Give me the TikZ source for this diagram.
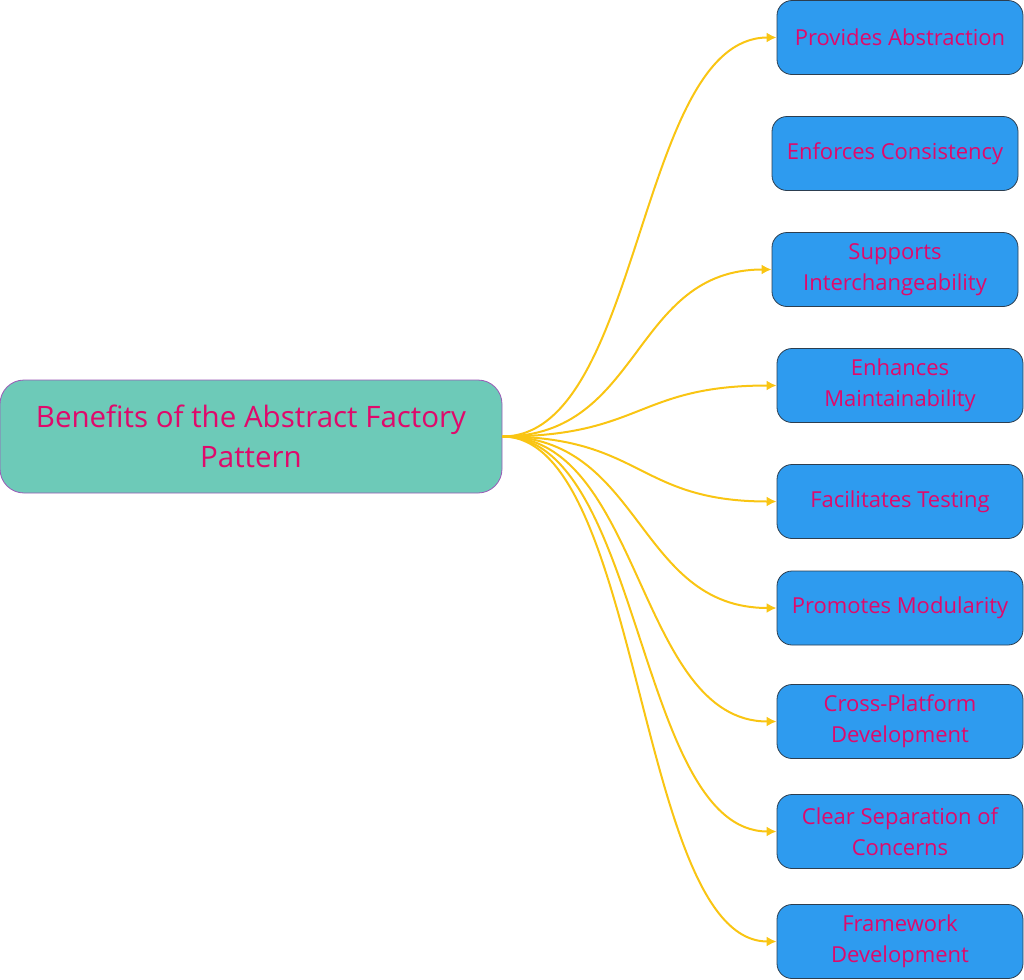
\documentclass[tikz,border=0pt]{standalone}
\usepackage{fontspec}
\setmainfont{Open Sans}
\usepackage{tikz}
\usetikzlibrary{arrows.meta}
\definecolor{rootteal}{HTML}{6DCAB8}
\definecolor{rootline}{HTML}{9B59B6}
\definecolor{leafblue}{HTML}{2E9BEF}
\definecolor{leafline}{HTML}{2C3E50}
\definecolor{labelpink}{HTML}{E0096B}
\definecolor{branchyellow}{HTML}{F9C513}
\tikzset{>={Latex[length=5pt,width=5pt]}}

\begin{document}
\begin{tikzpicture}[x=0.5pt, y=-0.5pt,
    rootbox/.style={draw=rootline, fill=rootteal, rounded corners=12pt,
      minimum width=251pt, minimum height=56.5pt, align=center,
      text=labelpink, font=\fontsize{14.75pt}{20pt}\selectfont},
    leafbox/.style={draw=leafline, fill=leafblue, rounded corners=7.5pt,
      minimum width=123pt, minimum height=37pt, align=center,
      text=labelpink, font=\fontsize{11pt}{15.5pt}\selectfont},
    branch/.style={->, draw=branchyellow, line width=1pt}]
  \useasboundingbox (0,0) rectangle (1024,980);

  % centre topic
  \node[rootbox] (root) at (251,436.5) {Benefits of the Abstract Factory\\Pattern};

  % benefits
  \node[leafbox] (abstraction) at (900,37.5) {Provides Abstraction};
  \node[leafbox] (consistency) at (895,153.5) {Enforces Consistency};
  \node[leafbox] (interchange) at (895,269.5) {Supports\\Interchangeability};
  \node[leafbox] (maintain) at (900,385.5) {Enhances\\Maintainability};
  \node[leafbox] (testing) at (900,501.5) {Facilitates Testing};
  \node[leafbox] (modularity) at (900,608) {Promotes Modularity};
  \node[leafbox] (crossplat) at (900,721.5) {Cross-Platform\\Development};
  \node[leafbox] (separation) at (900,831.5) {Clear Separation of\\Concerns};
  \node[leafbox] (framework) at (900,941.5) {Framework\\Development};

  % branches (none to consistency)
  \foreach \n in {abstraction, interchange, maintain, testing, modularity,
    crossplat, separation, framework}
    \draw[branch] (root.east) .. controls +(140,0) and +(-140,0) .. (\n.west);
\end{tikzpicture}
\end{document}
